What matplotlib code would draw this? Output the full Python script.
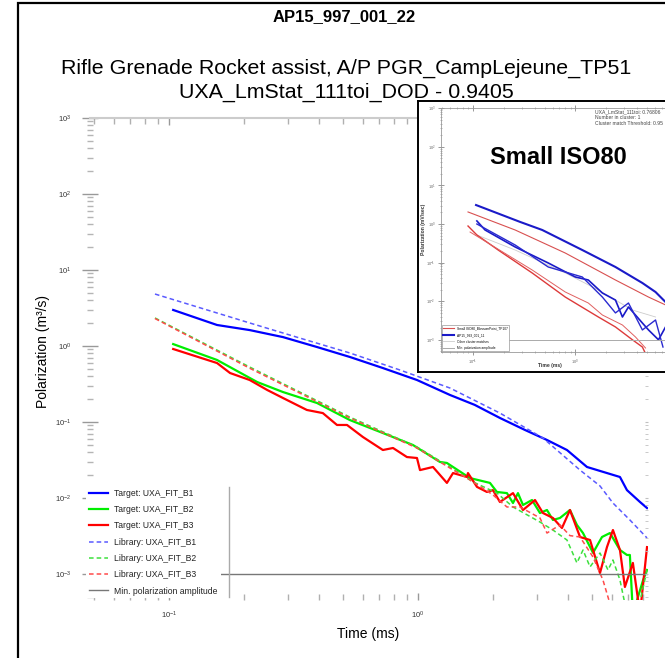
import numpy as np
import matplotlib.pyplot as plt
from matplotlib.lines import Line2D
from matplotlib.patches import Rectangle
from matplotlib.ticker import LogLocator, NullFormatter

plt.rcParams['font.family'] = ['Liberation Sans', 'DejaVu Sans']
plt.rcParams['axes.unicode_minus'] = False

# ---- main panel, values (time in ms, polarization in m^3/s)
t_target_b1 = [0.104, 0.156, 0.211, 0.287, 0.393, 0.533, 0.723, 0.991, 1.344, 1.69, 2.134,
               2.691, 3.297, 3.966, 4.773, 5.741, 6.474, 6.906, 7.792, 8.314]
p_target_b1 = [2.98, 1.89, 1.62, 1.31, 0.97, 0.717, 0.513, 0.357, 0.227, 0.168, 0.113,
               0.0785, 0.058, 0.0428, 0.0256, 0.0213, 0.0189, 0.0127, 0.00886, 0.00738]

t_target_b2 = [0.104, 0.156, 0.226, 0.287, 0.393, 0.533, 0.723, 0.955, 1.225, 1.307, 1.617,
               1.946, 2.076, 2.277, 2.408, 2.521, 2.641, 2.871, 3.090, 3.297, 3.484, 3.717,
               4.077, 4.349, 4.600, 5.047, 5.483, 5.902, 6.474, 6.906, 7.096, 7.295, 8.017, 8.314]
p_target_b2 = [1.06, 0.655, 0.336, 0.248, 0.178, 0.106, 0.0716, 0.0498, 0.0298, 0.0289, 0.0183,
               0.0158, 0.0120, 0.0116, 0.00859, 0.0116, 0.00809, 0.00941, 0.00635, 0.00695,
               0.00514, 0.00546, 0.00695, 0.00442, 0.00346, 0.0019, 0.00307, 0.00346, 0.00207,
               0.00178, 0.00178, 0.0003, 0.00083, 0.00113]

t_target_b3 = [0.104, 0.156, 0.176, 0.211, 0.248, 0.287, 0.358, 0.415, 0.473, 0.519, 0.601,
               0.723, 0.794, 0.903, 0.991, 1.019, 1.149, 1.307, 1.383, 1.574, 1.588, 1.726,
               1.893, 2.000, 2.134, 2.408, 2.641, 2.951, 3.176, 3.484, 3.787, 4.077, 4.475,
               4.909, 5.383, 5.741, 6.067, 6.474, 6.776, 7.295, 7.792, 8.314]
p_target_b3 = [0.913, 0.597, 0.441, 0.357, 0.264, 0.207, 0.144, 0.131, 0.0914, 0.0914, 0.0635,
               0.0428, 0.0455, 0.0346, 0.0336, 0.0233, 0.0256, 0.0158, 0.0213, 0.0189, 0.0213,
               0.0140, 0.0120, 0.0127, 0.00886, 0.0116, 0.00695, 0.00941, 0.00635, 0.00546,
               0.00403, 0.00695, 0.00307, 0.0028, 0.00103, 0.00226, 0.00379, 0.00207, 0.000675,
               0.0014, 0.0003, 0.00226]

t_library_b1 = [0.0879, 0.211, 0.336, 0.533, 0.847, 1.344, 2.134, 3.176, 4.475, 5.383, 6.067,
                7.096, 8.314]
p_library_b1 = [4.83, 2.01, 1.27, 0.809, 0.483, 0.28, 0.131, 0.0616, 0.0233, 0.0144, 0.00859,
                0.00514, 0.00298]

t_library_b2 = [0.0879, 0.211, 0.533, 0.991, 1.344, 1.663, 2.076, 2.408, 3.090, 3.484, 3.966,
                4.349, 4.600, 4.909, 5.383, 5.795, 6.067, 6.474, 6.906, 7.6, 8.314]
p_library_b2 = [2.34, 0.529, 0.116, 0.0469, 0.0256, 0.0163, 0.0116, 0.00762, 0.00483, 0.00379,
                0.0028, 0.0014, 0.00207, 0.00124, 0.00189, 0.00113, 0.00153, 0.000834, 0.0003,
                0.0003, 0.00113]

t_library_b3 = [0.0879, 0.211, 0.533, 0.991, 1.344, 1.574, 2.000, 2.277, 2.569, 3.090, 3.297,
                3.717, 4.077, 4.475, 5.047, 5.534, 6.067]
p_library_b3 = [2.30, 0.51, 0.113, 0.0455, 0.0248, 0.0183, 0.011, 0.00762, 0.00762, 0.00546,
                0.00346, 0.00442, 0.0032, 0.00307, 0.00167, 0.00083, 0.0003]

min_amplitude = 1e-3
y_decades = [1e-3, 1e-2, 1e-1, 1, 10, 100, 1000]
x_decades = [0.1, 1]

# ---- inset (thumbnail of the matched library item)
in_t_blue_up = [0.107, 0.289, 0.475, 1.17, 2.47, 4.53, 6.09, 7.63]
in_p_blue_up = [3.1, 1.13, 0.70, 0.212, 0.0769, 0.0296, 0.0173, 0.0095]
in_t_red_up = [0.0893, 0.258, 0.798, 2.47, 5.2, 7.63]
in_p_red_up = [2.05, 0.70, 0.177, 0.0354, 0.0128, 0.008]
in_t_red_low = [0.0893, 0.109, 0.176, 0.379, 0.798, 1.68, 2.47, 3.62, 4.53, 5.2]
in_p_red_low = [0.887, 0.52, 0.212, 0.0538, 0.0128, 0.0039, 0.00215, 0.001, 0.00065, 0.0003]
in_t_red_low2 = [0.0935, 0.379, 0.798, 1.34, 1.84, 2.89, 3.88, 4.86]
in_p_red_low2 = [0.62, 0.0643, 0.0173, 0.00898, 0.00439, 0.00242, 0.00118, 0.000613]
in_t_blue_low = [0.109, 0.131, 0.258, 0.544, 1.0, 1.34, 1.84, 2.47, 2.89, 3.31, 4.53, 5.2, 6.51, 7.63]
in_p_blue_low = [1.2, 0.70, 0.254, 0.0977, 0.0424, 0.0354, 0.0163, 0.0107, 0.0039, 0.00708,
                 0.00272, 0.0018, 0.001, 0.00215]
in_t_blue_low2 = [0.109, 0.258, 0.544, 1.17, 1.84, 2.47, 3.31, 4.53, 6.09, 7.2]
in_p_blue_low2 = [1.0, 0.286, 0.0769, 0.0424, 0.0128, 0.00497, 0.00898, 0.0018, 0.00326, 0.00065]
in_t_gray = [0.109, 0.258, 0.798, 1.68, 3.62, 6.09]
in_p_gray = [0.519, 0.212, 0.0538, 0.0195, 0.0059, 0.0039]

W, H = 665, 658
fig = plt.figure(figsize=(W / 100, H / 100), dpi=100)


def fx(px):
    return px / W


def fy(py):
    return 1 - py / H


# outer slide frame
fig.add_artist(Rectangle((fx(18), -0.05), 1.2, fy(3) + 0.05, transform=fig.transFigure,
                         fill=False, edgecolor='black', lw=1.6, clip_on=False))

fig.text(fx(344), fy(17), "AP15_997_001_22", ha='center', va='center',
         fontsize=12, fontweight='bold')
fig.text(fx(346), fy(68), "Rifle Grenade Rocket assist, A/P PGR_CampLejeune_TP51",
         ha='center', va='center', fontsize=15.4)
fig.text(fx(346), fy(92), "UXA_LmStat_111toi_DOD - 0.9405",
         ha='center', va='center', fontsize=15.4)

ax = fig.add_axes([fx(90), fy(600), fx(648) - fx(90), fy(118) - fy(600)])
ax.set_xscale('log')
ax.set_yscale('log')

ax.plot(t_target_b1, p_target_b1, color='#0000ff', lw=1.6, label='Target: UXA_FIT_B1')
ax.plot(t_target_b2, p_target_b2, color='#00ee00', lw=1.6, label='Target: UXA_FIT_B2')
ax.plot(t_target_b3, p_target_b3, color='#ff0000', lw=1.6, label='Target: UXA_FIT_B3')
ax.plot(t_library_b1, p_library_b1, color='#5a5aff', lw=1.1, ls=(0, (3, 2)),
        label='Library: UXA_FIT_B1')
ax.plot(t_library_b2, p_library_b2, color='#3de03d', lw=1.1, ls=(0, (3, 2)),
        label='Library: UXA_FIT_B2')
ax.plot(t_library_b3, p_library_b3, color='#ff4a4a', lw=1.1, ls=(0, (3, 2)),
        label='Library: UXA_FIT_B3')
ax.axhline(min_amplitude, color='#777777', lw=1, label='Min. polarization amplitude')

ax.set_xlim(0.0482, 8.39)
ax.set_ylim(4.55e-4, 1e3)

for s in ['left', 'bottom', 'right']:
    ax.spines[s].set_visible(False)
ax.spines['top'].set_color('#cccccc')
ax.spines['top'].set_linewidth(1.5)

ax.set_yticks(y_decades)
ax.set_xticks(x_decades)
ax.yaxis.set_minor_locator(LogLocator(base=10, subs=np.arange(2, 10), numticks=100))
ax.xaxis.set_minor_locator(LogLocator(base=10, subs=np.arange(2, 10), numticks=100))
ax.xaxis.set_minor_formatter(NullFormatter())
ax.yaxis.set_minor_formatter(NullFormatter())

ax.tick_params(axis='y', which='major', direction='inout', length=11, width=1,
               color='#999999', labelsize=5.5, labelcolor='#333333', pad=8)
ax.tick_params(axis='y', which='minor', direction='inout', length=4.5, width=1,
               color='#b5b5b5')
ax.tick_params(axis='x', which='both', direction='in', top=True, color='#b0b0b0',
               labelsize=5.5, labelcolor='#333333', pad=7)
ax.tick_params(axis='x', which='major', length=5, width=1, color='#999999')
ax.tick_params(axis='x', which='minor', length=4, width=1)

ax_r = ax.twinx()
ax_r.set_yscale('log')
ax_r.set_ylim(ax.get_ylim())
for s in ax_r.spines.values():
    s.set_visible(False)
ax_r.set_yticks(y_decades)
ax_r.yaxis.set_minor_locator(LogLocator(base=10, subs=np.arange(2, 10), numticks=100))
ax_r.tick_params(which='both', direction='in', length=2.5, color='#c0c0c0', labelright=False)

fig.text(fx(43), fy(352), "Polarization (m³/s)", rotation=90, ha='center', va='center',
         fontsize=10)
fig.text(fx(368), fy(634), "Time (ms)", ha='center', va='center', fontsize=10)

leg = ax.legend(loc='upper left', bbox_to_anchor=(fx(86), fy(486)), bbox_transform=fig.transFigure,
                fontsize=6.2, frameon=True, fancybox=False, edgecolor='none', facecolor='white',
                framealpha=1, handlelength=2.3, handletextpad=0.7, labelspacing=0.85,
                borderpad=0.3, borderaxespad=0)
for txt in leg.get_texts():
    txt.set_color('#222222')
fig.add_artist(Line2D([fx(229), fx(229)], [fy(487), fy(597)], color='#aaaaaa', lw=1))

# ---- inset picture
frame = fig.add_axes([fx(418), fy(372), fx(720) - fx(418), fy(101) - fy(372)], zorder=5)
frame.set_xticks([])
frame.set_yticks([])
for s in frame.spines.values():
    s.set_color('black')
    s.set_linewidth(1.4)

inner = fig.add_axes([fx(441), fy(352), fx(720) - fx(441), fy(108) - fy(352)], zorder=6)
inner.set_xscale('log')
inner.set_yscale('log')
inner.plot(in_t_gray, in_p_gray, color='#cccccc', lw=0.6, label='Other cluster matches')
inner.plot(in_t_red_up, in_p_red_up, color='#d85050', lw=0.8, label='Small ISO80_BlossomPoint_TP107')
inner.plot(in_t_red_low, in_p_red_low, color='#dd3a3a', lw=1.0, label='_nolegend_')
inner.plot(in_t_red_low2, in_p_red_low2, color='#e06060', lw=0.7, label='_nolegend_')
inner.plot(in_t_blue_up, in_p_blue_up, color='#1a1ac8', lw=1.5, label='AP15_993_001_11')
inner.plot(in_t_blue_low, in_p_blue_low, color='#1a1ac8', lw=1.2, label='_nolegend_')
inner.plot(in_t_blue_low2, in_p_blue_low2, color='#2a2ad0', lw=1.0, label='_nolegend_')
inner.axhline(1e-3, color='#aaaaaa', lw=0.7, label='Min. polarization amplitude')
inner.set_xlim(0.0486, 26)
inner.set_ylim(4.83e-4, 1012)
for s in inner.spines.values():
    s.set_color('#999999')
    s.set_linewidth(0.6)
inner.set_yticks(y_decades)
inner.set_xticks(x_decades)
inner.yaxis.set_minor_locator(LogLocator(base=10, subs=np.arange(2, 10), numticks=100))
inner.xaxis.set_minor_locator(LogLocator(base=10, subs=np.arange(2, 10), numticks=100))
inner.xaxis.set_minor_formatter(NullFormatter())
inner.yaxis.set_minor_formatter(NullFormatter())
inner.tick_params(which='both', direction='inout', top=True, color='#888888',
                  labelsize=2.8, labelcolor='#666666', pad=2)
inner.tick_params(which='major', length=4, width=0.6)
inner.tick_params(which='minor', length=2, width=0.4)

h, l = inner.get_legend_handles_labels()
order = [1, 2, 0, 3]
ileg = inner.legend([h[i] for i in order], [l[i] for i in order], loc='lower left',
                    fontsize=2.3, frameon=True, fancybox=False, edgecolor='#999999',
                    framealpha=1, handlelength=3.5, borderaxespad=0.2, labelspacing=0.8)
ileg.get_frame().set_linewidth(0.5)

fig.text(fx(558), fy(157), "Small ISO80", ha='center', va='center', fontsize=17,
         fontweight='bold', zorder=10)
fig.text(fx(595), fy(109), "UXA_LmStat_111toi: 0.76806\nNumber in cluster: 1\nCluster match Threshold: 0.95",
         ha='left', va='top', fontsize=3.6, color='#444444', linespacing=1.3, zorder=10)
fig.text(fx(550), fy(366), "Time (ms)", ha='center', va='center', fontsize=3.6,
         fontweight='bold', color='#333333', zorder=10)
fig.text(fx(423), fy(229), "Polarization (mV/sec)", rotation=90, ha='center', va='center',
         fontsize=3.6, fontweight='bold', color='#333333', zorder=10)

fig.savefig("out.png", dpi=100)
